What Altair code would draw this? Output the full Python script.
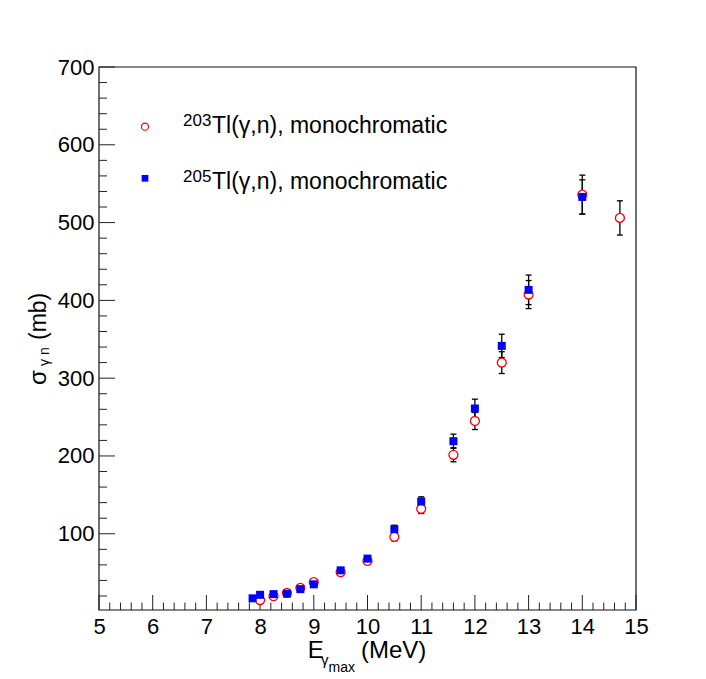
import altair as alt
import pandas as pd

# ---- data ----
E203 = [8.0, 8.25, 8.5, 8.75, 9.0, 9.5, 10.0, 10.5, 11.0, 11.6, 12.0, 12.5, 13.0, 14.0, 14.7]
S203 = [14.7, 19.7, 24.0, 30.5, 37.8, 50.6, 65.0, 96.0, 132.0, 201.5, 245.0, 320.0, 407.5, 536.0, 506.0]
D203 = [1.5, 2.0, 2.0, 2.5, 3.0, 3.5, 4.0, 5.0, 6.0, 9.0, 11.0, 14.0, 18.0, 25.0, 22.0]

E205 = [7.86, 8.0, 8.25, 8.5, 8.75, 9.0, 9.5, 10.0, 10.5, 11.0, 11.6, 12.0, 12.5, 13.0, 14.0]
S205 = [17.0, 21.5, 22.4, 23.0, 28.8, 35.0, 53.0, 68.0, 106.0, 141.5, 219.0, 261.0, 341.5, 413.5, 533.0]
D205 = [1.5, 1.5, 2.0, 2.0, 2.5, 3.0, 3.5, 4.0, 5.0, 6.0, 9.0, 12.0, 15.0, 19.0, 22.0]

X_LABELS = [5, 6, 7, 8, 9, 10, 11, 12, 13, 14, 15]
Y_LABELS = [100, 200, 300, 400, 500, 600, 700]
X_MINOR = [round(5 + 0.2 * i, 1) for i in range(51) if i % 5]
Y_MINOR = [20 * i for i in range(1, 35) if i % 5]

LEG_ISO = ["203", "205"]
LEG_TXT = "Tl(\u03b3,n), monochromatic"

# ---- layout ----
W, H = 537, 543
FONT = "Liberation Sans"

xs = alt.Scale(domain=[5, 15], nice=False, zero=False)
ys = alt.Scale(domain=[2, 700], nice=False, zero=False)

xaxis = alt.Axis(values=X_LABELS, title=None, grid=False, domain=False, ticks=False,
                 tickSize=0, labelPadding=6, labelFont=FONT, labelFontSize=22,
                 labelColor="black", labelFlush=False, labelOverlap=False, format="d")
yaxis = alt.Axis(values=Y_LABELS, title=None, grid=False, domain=False, ticks=False,
                 tickSize=0, labelPadding=5, labelFont=FONT, labelFontSize=22,
                 labelColor="black", labelFlush=False, labelOverlap=False, format="d")

d203 = pd.DataFrame({"E": E203, "S": S203, "lo": [s - d for s, d in zip(S203, D203)],
                     "hi": [s + d for s, d in zip(S203, D203)]})
d205 = pd.DataFrame({"E": E205, "S": S205, "lo": [s - d for s, d in zip(S205, D205)],
                     "hi": [s + d for s, d in zip(S205, D205)]})
derr = pd.concat([d203, d205], ignore_index=True)
dcap = pd.concat([derr[["E", "lo"]].rename(columns={"lo": "v"}),
                  derr[["E", "hi"]].rename(columns={"hi": "v"})], ignore_index=True)

one = pd.DataFrame({"a": [0]})

X = lambda f: alt.X(f, scale=xs, axis=xaxis, title=None)
Y = lambda f: alt.Y(f, scale=ys, axis=yaxis, title=None)

frame = alt.Chart(one).mark_rect(fillOpacity=0, stroke="#111111", strokeWidth=1.2).encode(
    x=alt.value(0), x2=alt.value(W), y=alt.value(0), y2=alt.value(H))

xmaj = alt.Chart(pd.DataFrame({"v": X_LABELS})).mark_rule(color="#222222", strokeWidth=1).encode(
    x=X("v:Q"), y=alt.value(H), y2=alt.value(H - 15))
xmin = alt.Chart(pd.DataFrame({"v": X_MINOR})).mark_rule(color="#222222", strokeWidth=1).encode(
    x=X("v:Q"), y=alt.value(H), y2=alt.value(H - 7.5))
ymaj = alt.Chart(pd.DataFrame({"v": Y_LABELS})).mark_rule(color="#222222", strokeWidth=1).encode(
    y=Y("v:Q"), x=alt.value(0), x2=alt.value(16))
ymin = alt.Chart(pd.DataFrame({"v": Y_MINOR})).mark_rule(color="#222222", strokeWidth=1).encode(
    y=Y("v:Q"), x=alt.value(0), x2=alt.value(8))

err = alt.Chart(derr).mark_rule(color="black", strokeWidth=1.3).encode(
    x=X("E:Q"), y=Y("lo:Q"), y2="hi:Q")
caps = alt.Chart(dcap).mark_tick(orient="horizontal", size=6, thickness=1.3, color="black",
                                 opacity=1).encode(x=X("E:Q"), y=Y("v:Q"))

circ = alt.Chart(d203).mark_point(shape="circle", fill="white", fillOpacity=1, stroke="#ff0000",
                                  strokeWidth=1.3, size=80, opacity=1).encode(
    x=X("E:Q"), y=Y("S:Q"))
sq = alt.Chart(d205).mark_square(color="#0000ff", size=64, opacity=1).encode(
    x=X("E:Q"), y=Y("S:Q"))

def txt(s, x, y, fs, angle=0):
    m = dict(text=s, font=FONT, fontSize=fs, align="left", baseline="alphabetic", color="black")
    if angle:
        m["angle"] = angle
    return alt.Chart(one).mark_text(**m).encode(x=alt.value(x), y=alt.value(y))

leg = [
    alt.Chart(one).mark_point(shape="circle", fill="white", fillOpacity=1, stroke="#ff0000",
                              strokeWidth=1.2, size=50, opacity=1).encode(
        x=alt.value(46), y=alt.value(59.7)),
    alt.Chart(one).mark_square(color="#0000ff", size=45, opacity=1).encode(
        x=alt.value(46), y=alt.value(111.3)),
    txt(LEG_ISO[0], 84, 59, 17),
    txt(LEG_TXT, 113, 66.3, 23),
    txt(LEG_ISO[1], 84, 115, 17),
    txt(LEG_TXT, 113, 122.3, 23),
]

titles = [
    txt("E", 208.7, 591, 24),
    txt("\u03b3", 222, 598, 15),
    txt("max", 229.5, 605, 14),
    txt("(MeV)", 262, 591, 24),
    txt("\u03c3", -53, 318, 24, 270),
    txt("\u03b3 n", -50, 299, 14, 270),
    txt("(mb)", -53, 273, 23, 270),
]

chart = alt.layer(frame, xmaj, xmin, ymaj, ymin, err, caps, circ, sq, *leg, *titles).properties(
    width=W, height=H,
    padding={"left": 91, "top": 59, "right": 60, "bottom": 76},
    autosize=alt.AutoSizeParams(type="none"),
    background="white",
).configure_view(stroke=None)

chart.save("out.html", embed_options={"renderer": "svg", "actions": False})
